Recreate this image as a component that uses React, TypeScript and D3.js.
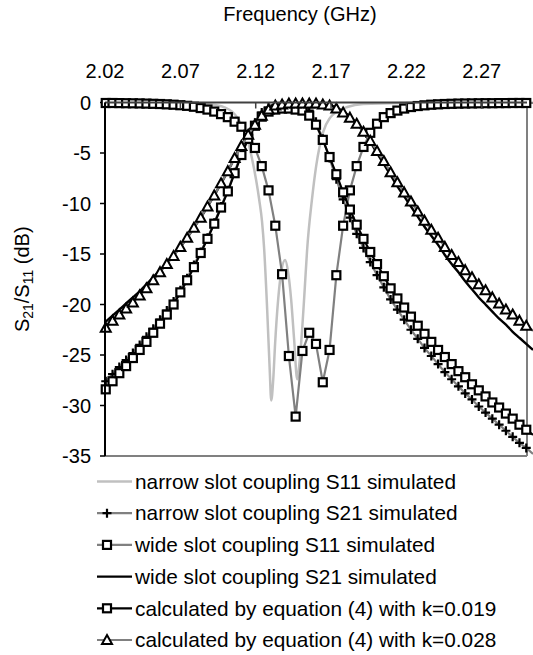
import * as d3 from "d3";
import React from "react";

// sampled frequencies (GHz) shared by the marker series
const freq = [
  2.0205, 2.025, 2.0295, 2.034, 2.0385, 2.043, 2.0475, 2.052, 2.0565, 2.061,
  2.0655, 2.07, 2.0745, 2.079, 2.0835, 2.088, 2.0925, 2.097, 2.1015, 2.106,
  2.1105, 2.115, 2.1195, 2.124, 2.1285, 2.133, 2.1375, 2.142, 2.1465, 2.151,
  2.1555, 2.16, 2.1645, 2.169, 2.1735, 2.178, 2.1825, 2.187, 2.1915, 2.196,
  2.2005, 2.205, 2.2095, 2.214, 2.2185, 2.223, 2.2275, 2.232, 2.2365, 2.241,
  2.2455, 2.25, 2.2545, 2.259, 2.2635, 2.268, 2.2725, 2.277, 2.2815, 2.286,
  2.2905, 2.295, 2.2995, 2.304,
];

// narrow slot S11 has its own (denser around the dips) sampling
const narrowS11Freq = [
  2.02, 2.0432, 2.0665, 2.0831, 2.093, 2.0997, 2.1043, 2.1083, 2.1116, 2.115,
  2.1176, 2.1203, 2.1223, 2.1242, 2.1256, 2.1276, 2.1293, 2.1303, 2.1316, 2.1329,
  2.1349, 2.1369, 2.1395, 2.1415, 2.1435, 2.1455, 2.1475, 2.1492, 2.1508, 2.1525,
  2.1541, 2.1574, 2.1601, 2.1648, 2.1694, 2.174, 2.1807, 2.1913, 2.2159, 2.2491,
  2.3042,
];
const narrowS11 = [
  -0.02, -0.03, -0.06, -0.12, -0.25, -0.5, -0.9, -1.6, -2.6, -3.9,
  -5.6, -7.7, -9.6, -11.8, -14.5, -20.5, -26.5, -29.5, -27.5, -23.8,
  -19.5, -16.8, -15.6, -16.8, -19.5, -23.5, -27.4, -25.5, -22.5, -18.5,
  -14.6, -9.5, -6.3, -2.9, -1.5, -0.9, -0.45, -0.15, -0.05, -0.03,
  -0.02,
];

const narrowS21 = [
  -27.6, -26.9, -26.2, -25.5, -24.8, -24.0, -23.2, -22.4, -21.5, -20.6,
  -19.7, -18.6, -17.4, -16.1, -14.8, -13.4, -11.9, -10.3, -8.7, -6.9,
  -5.0, -3.3, -2.0, -1.0, -0.5, -0.3, -0.2, -0.2, -0.2, -0.3,
  -0.8, -1.9, -3.6, -5.5, -7.6, -9.6, -11.4, -13.0, -14.4, -15.8,
  -17.1, -18.3, -19.5, -20.5, -21.5, -22.5, -23.4, -24.3, -25.1, -25.9,
  -26.7, -27.4, -28.1, -28.8, -29.4, -30.1, -30.7, -31.3, -31.9, -32.5,
  -33.1, -33.7, -34.2, -34.8,
];

const wideS11 = [
  -0.05, -0.05, -0.06, -0.07, -0.08, -0.09, -0.11, -0.13, -0.15, -0.18,
  -0.22, -0.27, -0.33, -0.42, -0.55, -0.7, -0.9, -1.15, -1.45, -1.9,
  -2.4, -3.2, -4.5, -6.3, -8.7, -12.2, -17.0, -25.1, -31.1, -24.6,
  -22.8, -23.9, -27.7, -24.5, -17.1, -12.2, -8.7, -6.3, -4.4, -3.0,
  -2.1, -1.45, -1.05, -0.8, -0.6, -0.45, -0.35, -0.28, -0.22, -0.18,
  -0.15, -0.13, -0.11, -0.1, -0.09, -0.08, -0.07, -0.07, -0.06, -0.06,
  -0.05, -0.05, -0.05, -0.05,
];

const wideS21 = [
  -21.7, -21.1, -20.5, -19.9, -19.3, -18.7, -18.0, -17.3, -16.6, -15.9,
  -15.1, -14.3, -13.4, -12.4, -11.4, -10.3, -9.2, -8.0, -6.8, -5.5,
  -4.3, -3.2, -2.2, -1.3, -0.7, -0.4, -0.3, -0.3, -0.3, -0.3,
  -0.3, -0.3, -0.3, -0.3, -0.5, -0.9, -1.4, -2.1, -2.9, -3.9,
  -5.0, -6.1, -7.2, -8.3, -9.3, -10.3, -11.3, -12.3, -13.2, -14.1,
  -15.1, -16.0, -16.8, -17.7, -18.5, -19.3, -20.0, -20.7, -21.4, -22.0,
  -22.7, -23.3, -23.9, -24.5,
];

const calcK019 = [
  -28.4, -27.6, -26.8, -26.1, -25.3, -24.5, -23.7, -22.8, -21.9, -21.0,
  -20.0, -18.8, -17.6, -16.3, -14.9, -13.5, -12.0, -10.4, -8.8, -7.0,
  -5.2, -3.6, -2.3, -1.4, -0.9, -0.7, -0.6, -0.6, -0.7, -0.8,
  -1.3, -2.2, -3.7, -5.4, -7.1, -8.9, -10.6, -12.1, -13.5, -14.8,
  -16.0, -17.2, -18.4, -19.4, -20.3, -21.2, -22.1, -22.9, -23.7, -24.5,
  -25.2, -25.9, -26.6, -27.2, -27.9, -28.5, -29.1, -29.7, -30.2, -30.8,
  -31.3, -31.9, -32.4, -32.9,
];

const calcK028 = [
  -22.3, -21.6, -21.0, -20.4, -19.8, -19.1, -18.4, -17.6, -16.8, -16.0,
  -15.2, -14.3, -13.4, -12.4, -11.4, -10.3, -9.2, -8.0, -6.8, -5.5,
  -4.3, -3.2, -2.2, -1.3, -0.7, -0.3, -0.2, -0.1, -0.1, -0.1,
  -0.1, -0.1, -0.2, -0.3, -0.6, -1.0, -1.5, -2.1, -2.9, -3.8,
  -4.8, -5.8, -6.9, -7.9, -8.9, -9.8, -10.8, -11.7, -12.6, -13.4,
  -14.3, -15.1, -15.8, -16.6, -17.3, -18.0, -18.6, -19.3, -19.9, -20.5,
  -21.0, -21.6, -22.1, -22.6,
];

const xTicks = [2.02, 2.07, 2.12, 2.17, 2.22, 2.27];
const yTicks = [0, -5, -10, -15, -20, -25, -30, -35];
const legendLabels = [
  "narrow slot coupling S11 simulated",
  "narrow slot coupling S21 simulated",
  "wide slot coupling S11 simulated",
  "wide slot coupling S21 simulated",
  "calculated by equation (4) with k=0.019",
  "calculated by equation (4) with k=0.028",
];

const W = 533;
const H = 655;
const plot = { left: 105, right: 527, top: 102.5, bottom: 456 };
const FONT = "'Liberation Sans', Arial, sans-serif";

const x = d3.scaleLinear().domain([2.02, 2.3]).range([plot.left, plot.right]);
const y = d3.scaleLinear().domain([-35, 0]).range([plot.bottom, plot.top]);

const series = [
  { name: legendLabels[0], xs: narrowS11Freq, ys: narrowS11, stroke: "#c0c0c0", width: 2.5, marker: null, smooth: true },
  { name: legendLabels[1], xs: freq, ys: narrowS21, stroke: "#808080", width: 2.2, marker: "plus", smooth: false },
  { name: legendLabels[2], xs: freq, ys: wideS11, stroke: "#808080", width: 2.2, marker: "square", smooth: false },
  { name: legendLabels[3], xs: freq, ys: wideS21, stroke: "#000", width: 2.4, marker: null, smooth: true },
  { name: legendLabels[4], xs: freq, ys: calcK019, stroke: "#000", width: 2.2, marker: "square", smooth: false },
  { name: legendLabels[5], xs: freq, ys: calcK028, stroke: "#808080", width: 2.2, marker: "triangle", smooth: false },
];

function Marker({ type, cx, cy }: { type: string | null; cx: number; cy: number }) {
  if (type === "square")
    return <rect x={cx - 4} y={cy - 4} width={8} height={8} fill="#fff" stroke="#000" strokeWidth={2.2} />;
  if (type === "triangle")
    return (
      <path
        d={`M${cx},${cy - 5}L${cx + 5},${cy + 4}L${cx - 5},${cy + 4}Z`}
        fill="#fff"
        stroke="#000"
        strokeWidth={2}
        strokeLinejoin="miter"
      />
    );
  if (type === "plus")
    return <path d={`M${cx - 4.5},${cy}H${cx + 4.5}M${cx},${cy - 4.5}V${cy + 4.5}`} stroke="#000" strokeWidth={2.2} />;
  return null;
}

export default function App() {
  const fmt = d3.format(".2f");

  return (
    <svg
      width={W}
      height={H}
      style={{ position: "absolute", left: 0, top: 0, background: "#fff" }}
      fontFamily={FONT}
    >
      {/* axis title */}
      <text x={300} y={21} fontSize={20} textAnchor="middle" fill="#000">
        Frequency (GHz)
      </text>

      {/* x tick labels on top */}
      {xTicks.map((t) => (
        <text key={t} x={x(t)} y={78} fontSize={20} textAnchor="middle" fill="#000">
          {fmt(t)}
        </text>
      ))}

      {/* y tick labels */}
      {yTicks.map((t) => (
        <g key={t}>
          <text x={91} y={y(t)} dy="0.35em" fontSize={20} textAnchor="end" fill="#000">
            {t}
          </text>
          <line x1={100} x2={plot.left} y1={y(t)} y2={y(t)} stroke="#000" strokeWidth={1.5} />
        </g>
      ))}

      {/* y title */}
      <text transform={`translate(29,${(plot.top + plot.bottom) / 2}) rotate(-90)`} fontSize={20} textAnchor="middle" fill="#000">
        S<tspan fontSize={14} dy={4}>21</tspan>
        <tspan dy={-4}>/S</tspan>
        <tspan fontSize={14} dy={4}>11</tspan>
        <tspan dy={-4}> (dB)</tspan>
      </text>

      {/* frame */}
      <line x1={plot.left} x2={plot.right} y1={plot.bottom} y2={plot.bottom} stroke="#808080" strokeWidth={2} />
      <line x1={plot.right} x2={plot.right} y1={plot.top} y2={plot.bottom} stroke="#808080" strokeWidth={2} />

      {/* series */}
      {series.map((s, si) => {
        const pts = s.xs.map((f, i) => [x(f), y(s.ys[i])] as [number, number]);
        const line = d3.line().curve(s.smooth ? d3.curveMonotoneX : d3.curveLinear);
        return (
          <g key={si}>
            <path d={line(pts) || ""} fill="none" stroke={s.stroke} strokeWidth={s.width} strokeLinejoin="round" />
            {s.marker &&
              s.xs.map((f, i) =>
                f <= 2.3 ? <Marker key={i} type={s.marker} cx={x(f)} cy={y(s.ys[i])} /> : null
              )}
          </g>
        );
      })}

      {/* axes lines over data */}
      <line x1={plot.left} x2={plot.right} y1={plot.top} y2={plot.top} stroke="#404040" strokeWidth={2} />
      {xTicks.map((t) => (
        <line key={t} x1={x(t)} x2={x(t)} y1={plot.top} y2={plot.top + 6} stroke="#404040" strokeWidth={1.5} />
      ))}
      <line x1={plot.left} x2={plot.left} y1={plot.top} y2={plot.bottom} stroke="#000" strokeWidth={2} />

      {/* legend */}
      {series.map((s, i) => {
        const cy = 481.5 + i * 31.7;
        return (
          <g key={i}>
            <line x1={97} x2={132} y1={cy} y2={cy} stroke={s.stroke} strokeWidth={s.width} />
            <Marker type={s.marker} cx={107} cy={cy} />
            <text x={135} y={cy} dy="0.35em" fontSize={20.8} fill="#000">
              {s.name}
            </text>
          </g>
        );
      })}
    </svg>
  );
}
